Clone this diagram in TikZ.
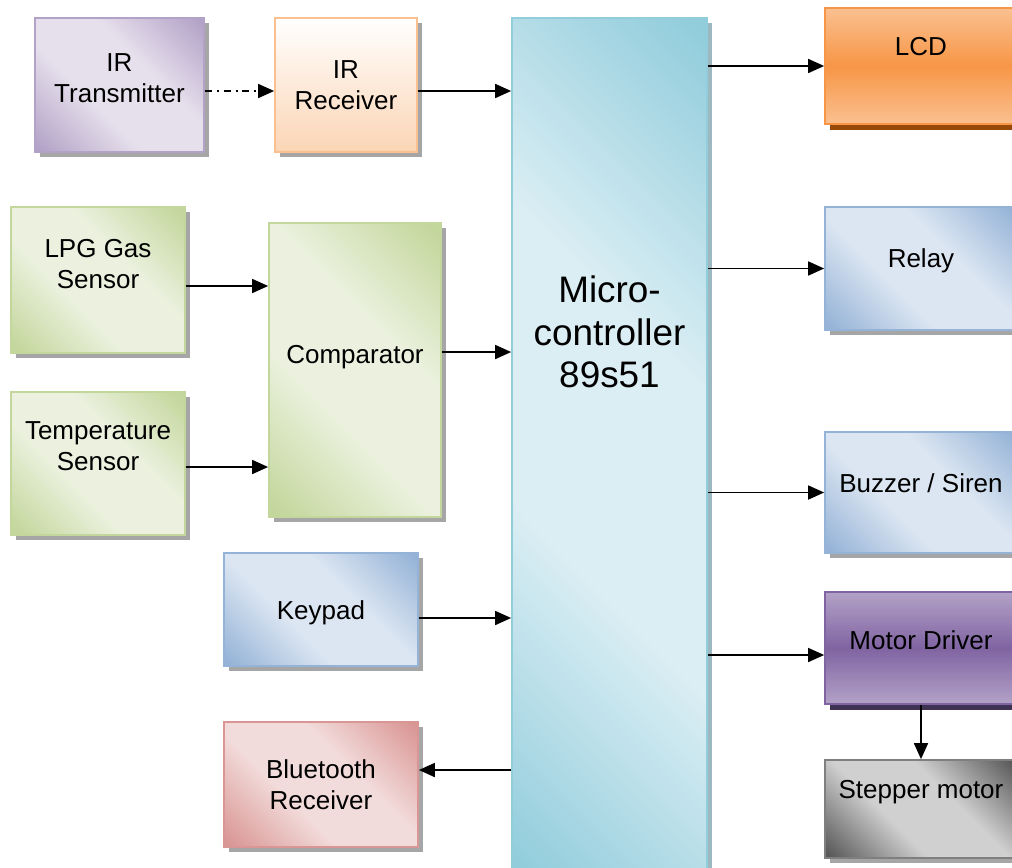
\documentclass[tikz,border=0pt]{standalone}
\usepackage{fontspec}
\setmainfont{Liberation Sans}
\usepackage{xcolor}
\usepackage{tikz}
\usetikzlibrary{arrows.meta}
\usetikzlibrary{shadows}

\definecolor{purlight}{HTML}{E6E0EC}
\definecolor{purdark}{HTML}{B3A2C7}
\definecolor{peach}{HTML}{FBD5B5}
\definecolor{peachline}{HTML}{FAC090}
\definecolor{mculight}{HTML}{DBEEF4}
\definecolor{mcudark}{HTML}{92CDDC}
\definecolor{mcushadow}{HTML}{9DB8C0}
\definecolor{orglight}{HTML}{FAC090}
\definecolor{orgdark}{HTML}{F79646}
\definecolor{orgshadow}{HTML}{984807}
\definecolor{bluelight}{HTML}{DCE6F2}
\definecolor{bluedark}{HTML}{95B3D7}
\definecolor{grnlight}{HTML}{EBF1DE}
\definecolor{grndark}{HTML}{C3D69B}
\definecolor{mdlight}{HTML}{B3A2C7}
\definecolor{mddark}{HTML}{8064A2}
\definecolor{mdshadow}{HTML}{3F3151}
\definecolor{redlight}{HTML}{F2DCDB}
\definecolor{reddark}{HTML}{D99694}
\definecolor{stplight}{HTML}{D0D0D0}
\definecolor{stpdark}{HTML}{595959}
\definecolor{stpline}{HTML}{7F7F7F}
\colorlet{glasshi}{white}
\colorlet{glasslo}{gray}

\pgfdeclareverticalshading[glasslo,glasshi]{glassy}{100bp}{color(0bp)=(glasslo); color(16bp)=(glasslo); color(40bp)=(glasshi); color(60bp)=(glasshi); color(84bp)=(glasslo); color(100bp)=(glasslo)}

\tikzset{
  box/.style={rectangle, inner sep=0pt, line width=1pt,
    drop shadow={shadow xshift=.1cm, shadow yshift=-.1cm, opacity=1, fill=gray!70}},
  glass/.style 2 args={draw=#2, shading=glassy, shading angle=-45,
    /utils/exec={\colorlet{glasshi}{#1}\colorlet{glasslo}{#2}}},
  band/.style 2 args={draw=#2, top color=#1, bottom color=#1, middle color=#2},
  txt/.style={font=\fontsize{14.8}{17.6}\selectfont, align=center},
  bigtxt/.style={font=\fontsize{21}{24.2}\selectfont, align=center},
  arr/.style={-{Triangle[length=.32cm,width=.28cm]}, line width=1pt},
  dashdot/.style={dash pattern=on 4pt off 2.8pt on 1.1pt off 2.8pt},
}

\begin{document}
\begin{tikzpicture}[x=0.02cm, y=-0.02cm]
  \useasboundingbox (0,0) rectangle (1012,867);
  % left column
  \node[box, glass={purlight}{purdark}, minimum width=3.38cm, minimum height=2.68cm,
    label={[txt,yshift=.14cm]center:IR\\Transmitter}] (irtx) at (119.5,85) {};
  \node[box, draw=peachline, top color=white, bottom color=peach, minimum width=2.84cm, minimum height=2.68cm,
    label={[txt]center:IR\\Receiver}] (irrx) at (346,85) {};
  \node[box, glass={grnlight}{grndark}, minimum width=3.48cm, minimum height=2.92cm,
    label={[txt,yshift=.32cm]center:LPG Gas\\Sensor}] (lpg) at (98,280) {};
  \node[box, glass={grnlight}{grndark}, minimum width=3.48cm, minimum height=2.86cm,
    label={[txt,yshift=.35cm]center:Temperature\\Sensor}] (temp) at (98,463.5) {};
  \node[box, glass={grnlight}{grndark}, minimum width=3.44cm, minimum height=5.88cm,
    label={[txt,yshift=.26cm]center:Comparator}] (comp) at (355,370) {};
  \node[box, glass={bluelight}{bluedark}, minimum width=3.88cm, minimum height=2.26cm,
    label={[txt,yshift=-.07cm]center:Keypad}] (keypad) at (321,609.5) {};
  \node[box, glass={redlight}{reddark}, minimum width=3.88cm, minimum height=2.5cm,
    label={[txt]center:Bluetooth\\Receiver}] (btr) at (321,784.5) {};
  % controller
  \node[box, glass={mculight}{mcudark}, drop shadow={shadow xshift=.1cm, shadow yshift=-.1cm, opacity=1, fill=mcushadow},
    minimum width=3.9cm, minimum height=17.24cm,
    label={[bigtxt,yshift=2.34cm]center:Micro-\\controller\\89s51}] (mcu) at (609.5,449) {};
  % right column
  \node[box, band={orglight}{orgdark}, drop shadow={shadow xshift=.1cm, shadow yshift=-.12cm, opacity=1, fill=orgshadow},
    minimum width=3.84cm, minimum height=2.32cm,
    label={[txt,yshift=.38cm]center:LCD}] (lcd) at (921,66) {};
  \node[box, glass={bluelight}{bluedark}, minimum width=3.84cm, minimum height=2.46cm,
    label={[txt,yshift=.15cm]center:Relay}] (relay) at (921,268.5) {};
  \node[box, glass={bluelight}{bluedark}, minimum width=3.84cm, minimum height=2.42cm,
    label={[txt,yshift=.19cm]center:Buzzer / Siren}] (buzzer) at (921,492.5) {};
  \node[box, band={mdlight}{mddark}, drop shadow={shadow xshift=.1cm, shadow yshift=-.12cm, opacity=1, fill=mdshadow},
    minimum width=3.84cm, minimum height=2.24cm,
    label={[txt,yshift=.16cm]center:Motor Driver}] (md) at (921,648) {};
  \node[box, glass={stplight}{stpdark}, draw=stpline, minimum width=3.84cm, minimum height=1.96cm,
    label={[txt,yshift=.34cm]center:Stepper motor}] (stepper) at (921,809) {};

  % connectors
  \draw[arr, dashdot] ([yshift=-.12cm]irtx.east) -- ([yshift=-.12cm]irrx.west);
  \draw[arr] ([yshift=-.12cm]irrx.east) -- ([yshift=-.12cm]irrx.east -| mcu.west);
  \draw[arr] ([yshift=-.12cm]lpg.east) -- ([yshift=-.12cm]lpg.east -| comp.west);
  \draw[arr] ([yshift=-.07cm]temp.east) -- ([yshift=-.07cm]temp.east -| comp.west);
  \draw[arr] ([yshift=.36cm]comp.east) -- ([yshift=.36cm]comp.east -| mcu.west);
  \draw[arr] ([yshift=-.17cm]keypad.east) -- ([yshift=-.17cm]keypad.east -| mcu.west);
  \draw[arr] ([yshift=.29cm]btr.east -| mcu.west) -- ([yshift=.29cm]btr.east);
  \draw[arr] (lcd.west -| mcu.east) -- (lcd.west);
  \draw[arr] (relay.west -| mcu.east) -- (relay.west);
  \draw[arr] (buzzer.west -| mcu.east) -- (buzzer.west);
  \draw[arr] ([yshift=-.14cm]md.west -| mcu.east) -- ([yshift=-.14cm]md.west);
  \draw[arr] (md.south) -- (stepper.north);
\end{tikzpicture}
\end{document}
